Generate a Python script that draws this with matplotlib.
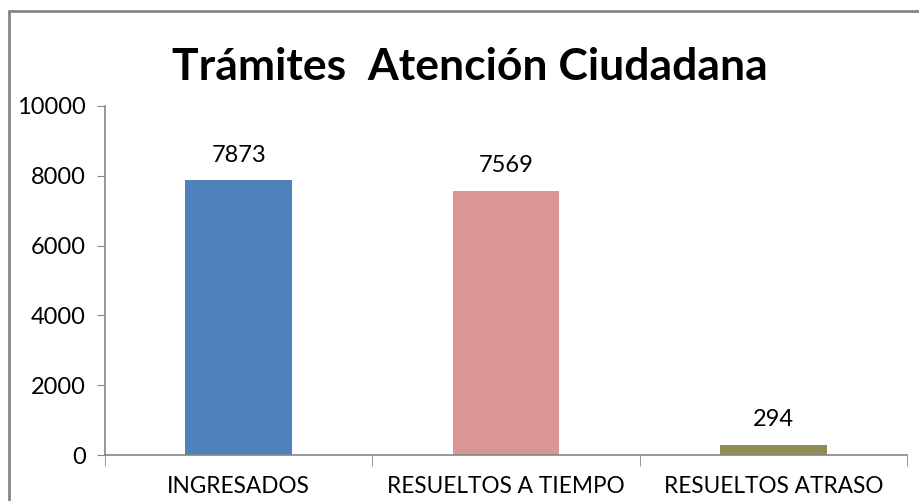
import numpy as np
import matplotlib.pyplot as plt
from matplotlib.patches import Rectangle

categories = ["INGRESADOS", "RESUELTOS A TIEMPO", "RESUELTOS ATRASO"]
values = [7873, 7569, 294]
colors = ["#4F81BD", "#D99694", "#948A54"]

plt.rcParams['font.family'] = ['Lato', 'DejaVu Sans']

fig = plt.figure(figsize=(9.2, 5.01), dpi=100)
ax = fig.add_axes([105 / 920, 1 - 455 / 501, (907 - 105) / 920, (455 - 106) / 501])

x = np.arange(len(categories))
bars = ax.bar(x, values, width=0.4, color=colors, zorder=2)
for xi, v in zip(x, values):
    ax.text(xi, v + 420, str(v), ha="center", va="bottom", fontsize=17, color="black")

ax.set_xlim(-0.5, 2.5)
ax.set_ylim(0, 10000)
ax.set_yticks(np.arange(0, 10001, 2000))
ax.tick_params(axis="y", labelsize=17, length=6, color="#868686", pad=8)
ax.set_xticks(x)
ax.set_xticklabels(categories, fontsize=16.3)
ax.tick_params(axis="x", length=0, pad=15)
# category separator ticks
ax.set_xticks(np.arange(-0.5, 2.6, 1), minor=True)
ax.tick_params(axis="x", which="minor", length=8, color="#868686", direction="out")

for side in ["top", "right"]:
    ax.spines[side].set_visible(False)
for side in ["left", "bottom"]:
    ax.spines[side].set_color("#868686")
    ax.spines[side].set_linewidth(1.2)

fig.text(470 / 920, 1 - 67 / 501, "Trámites  Atención Ciudadana", ha="center", va="center",
         fontsize=32, fontweight="bold")

# chart area border
fig.patches.append(Rectangle((9 / 920, -0.1), 1.2, 1 - 11 / 501 + 0.1, transform=fig.transFigure,
                             fill=False, edgecolor="#858585", linewidth=2))

fig.savefig("out.png", dpi=100)
